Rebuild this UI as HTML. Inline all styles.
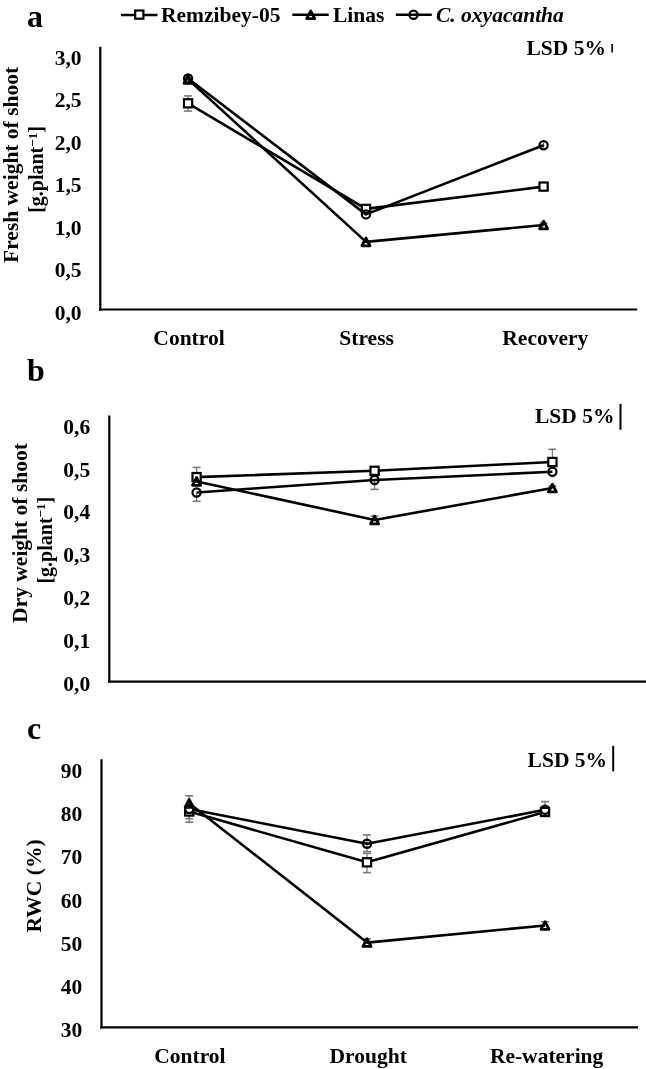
<!DOCTYPE html>
<html><head><meta charset="utf-8"><style>
html,body{margin:0;padding:0;background:#fff;}
svg{display:block;filter:grayscale(1) blur(0.3px);}
svg text{font-family:"Liberation Serif", serif;font-weight:bold;fill:#000;}
</style></head><body>
<svg width="646" height="1069" viewBox="0 0 646 1069">
<line x1="121" y1="15" x2="157.5" y2="15" stroke="#000" stroke-width="2.6" stroke-linecap="butt"/>
<rect x="135.2" y="10.5" width="8.2" height="8.2" fill="#fff" stroke="#000" stroke-width="2.2"/>
<text x="161" y="22.2" text-anchor="start" font-size="21.5"  style="">Remzibey-05</text>
<line x1="292.3" y1="14.8" x2="328.7" y2="14.8" stroke="#000" stroke-width="2.6" stroke-linecap="butt"/>
<polygon points="310.7,10.95 314.75,18.65 306.65,18.65" fill="none" stroke="#000" stroke-width="2.75" stroke-linejoin="round"/>
<text x="333" y="22.2" text-anchor="start" font-size="21.5"  style="">Linas</text>
<line x1="395.8" y1="14.7" x2="431.8" y2="14.7" stroke="#000" stroke-width="2.6" stroke-linecap="butt"/>
<circle cx="413.5" cy="14.7" r="4.1" fill="none" stroke="#000" stroke-width="2.2"/>
<text x="436" y="22.2" text-anchor="start" font-size="21.5"  style="font-style:italic">C. oxyacantha</text>
<text x="27" y="26.6" text-anchor="start" font-size="32"  style="">a</text>
<line x1="100.3" y1="46.8" x2="100.3" y2="310.7" stroke="#000" stroke-width="2.2" stroke-linecap="butt"/>
<line x1="99.1" y1="309.5" x2="637.2" y2="309.5" stroke="#000" stroke-width="2.2" stroke-linecap="butt"/>
<text x="81.5" y="64.8" text-anchor="end" font-size="21.5"  style="">3,0</text>
<text x="81.5" y="107.27" text-anchor="end" font-size="21.5"  style="">2,5</text>
<text x="81.5" y="149.74" text-anchor="end" font-size="21.5"  style="">2,0</text>
<text x="81.5" y="192.21" text-anchor="end" font-size="21.5"  style="">1,5</text>
<text x="81.5" y="234.68" text-anchor="end" font-size="21.5"  style="">1,0</text>
<text x="81.5" y="277.15" text-anchor="end" font-size="21.5"  style="">0,5</text>
<text x="81.5" y="319.62" text-anchor="end" font-size="21.5"  style="">0,0</text>
<text x="189" y="344.5" text-anchor="middle" font-size="21.5"  style="">Control</text>
<text x="366.6" y="344.5" text-anchor="middle" font-size="21.5"  style="">Stress</text>
<text x="545.3" y="344.5" text-anchor="middle" font-size="21.5"  style="">Recovery</text>
<text x="526.5" y="54.8" text-anchor="start" font-size="21.5"  style="">LSD 5%</text>
<line x1="612.1" y1="43.9" x2="612.1" y2="52.4" stroke="#000" stroke-width="1.6" stroke-linecap="butt"/>
<text transform="translate(18.3,164.9) rotate(-90)" text-anchor="middle" font-size="21.5">Fresh weight of shoot</text>
<text transform="translate(43,169.5) rotate(-90)" text-anchor="middle" font-size="20">[g.plant<tspan font-size="13" dy="-6.3">&#8722;1</tspan><tspan dy="6.3">]</tspan></text>
<line x1="188.1" y1="103.3" x2="188.1" y2="95.9" stroke="#7a7a7a" stroke-width="1.3" stroke-linecap="butt"/>
<line x1="184.1" y1="95.9" x2="192.1" y2="95.9" stroke="#7a7a7a" stroke-width="1.6" stroke-linecap="butt"/>
<line x1="188.1" y1="103.3" x2="188.1" y2="111.1" stroke="#7a7a7a" stroke-width="1.3" stroke-linecap="butt"/>
<line x1="184.1" y1="111.1" x2="192.1" y2="111.1" stroke="#7a7a7a" stroke-width="1.6" stroke-linecap="butt"/>
<line x1="543.6" y1="225.0" x2="543.6" y2="223.2" stroke="#7a7a7a" stroke-width="1.3" stroke-linecap="butt"/>
<line x1="539.6" y1="223.2" x2="547.6" y2="223.2" stroke="#7a7a7a" stroke-width="1.6" stroke-linecap="butt"/>
<line x1="543.6" y1="142.5" x2="543.6" y2="147.8" stroke="#7a7a7a" stroke-width="1.3" stroke-linecap="butt"/>
<polyline points="188.1,103.3 366.0,208.9 543.6,186.6" fill="none" stroke="#000" stroke-width="2.6" stroke-linejoin="round"/>
<polyline points="188.1,79.4 366.0,241.9 543.6,225.0" fill="none" stroke="#000" stroke-width="2.6" stroke-linejoin="round"/>
<polyline points="188.1,78.5 366.0,214.4 543.6,145.2" fill="none" stroke="#000" stroke-width="2.6" stroke-linejoin="round"/>
<rect x="184.0" y="99.2" width="8.2" height="8.2" fill="#fff" stroke="#000" stroke-width="2.2"/>
<rect x="361.9" y="204.8" width="8.2" height="8.2" fill="#fff" stroke="#000" stroke-width="2.2"/>
<rect x="539.5" y="182.5" width="8.2" height="8.2" fill="#fff" stroke="#000" stroke-width="2.2"/>
<polygon points="188.1,75.55 192.15,83.25 184.05,83.25" fill="none" stroke="#000" stroke-width="2.75" stroke-linejoin="round"/>
<polygon points="366.0,238.05 370.05,245.75 361.95,245.75" fill="none" stroke="#000" stroke-width="2.75" stroke-linejoin="round"/>
<polygon points="543.6,221.15 547.65,228.85 539.55,228.85" fill="none" stroke="#000" stroke-width="2.75" stroke-linejoin="round"/>
<circle cx="188.1" cy="78.5" r="4.1" fill="none" stroke="#000" stroke-width="2.2"/>
<circle cx="366.0" cy="214.4" r="4.1" fill="none" stroke="#000" stroke-width="2.2"/>
<circle cx="543.6" cy="145.2" r="4.1" fill="none" stroke="#000" stroke-width="2.2"/>
<text x="27" y="380.7" text-anchor="start" font-size="32"  style="">b</text>
<line x1="109.3" y1="415.5" x2="109.3" y2="682.7" stroke="#000" stroke-width="2.2" stroke-linecap="butt"/>
<line x1="108.1" y1="681.6" x2="646" y2="681.6" stroke="#000" stroke-width="2.2" stroke-linecap="butt"/>
<text x="90.2" y="433.6" text-anchor="end" font-size="21.5"  style="">0,6</text>
<text x="90.2" y="476.53" text-anchor="end" font-size="21.5"  style="">0,5</text>
<text x="90.2" y="519.46" text-anchor="end" font-size="21.5"  style="">0,4</text>
<text x="90.2" y="562.39" text-anchor="end" font-size="21.5"  style="">0,3</text>
<text x="90.2" y="605.32" text-anchor="end" font-size="21.5"  style="">0,2</text>
<text x="90.2" y="648.25" text-anchor="end" font-size="21.5"  style="">0,1</text>
<text x="90.2" y="691.18" text-anchor="end" font-size="21.5"  style="">0,0</text>
<text x="535" y="423.2" text-anchor="start" font-size="21.5"  style="">LSD 5%</text>
<line x1="620.5" y1="403.9" x2="620.5" y2="429.7" stroke="#000" stroke-width="2" stroke-linecap="butt"/>
<text transform="translate(27,533) rotate(-90)" text-anchor="middle" font-size="21.5">Dry weight of shoot</text>
<text transform="translate(51.5,540.2) rotate(-90)" text-anchor="middle" font-size="20">[g.plant<tspan font-size="13" dy="-6.3">&#8722;1</tspan><tspan dy="6.3">]</tspan></text>
<line x1="196.6" y1="477.1" x2="196.6" y2="467.4" stroke="#7a7a7a" stroke-width="1.3" stroke-linecap="butt"/>
<line x1="192.6" y1="467.4" x2="200.6" y2="467.4" stroke="#7a7a7a" stroke-width="1.6" stroke-linecap="butt"/>
<line x1="196.6" y1="492.5" x2="196.6" y2="501.3" stroke="#7a7a7a" stroke-width="1.3" stroke-linecap="butt"/>
<line x1="192.6" y1="501.3" x2="200.6" y2="501.3" stroke="#7a7a7a" stroke-width="1.6" stroke-linecap="butt"/>
<line x1="374.6" y1="480.0" x2="374.6" y2="489.4" stroke="#7a7a7a" stroke-width="1.3" stroke-linecap="butt"/>
<line x1="370.6" y1="489.4" x2="378.6" y2="489.4" stroke="#7a7a7a" stroke-width="1.6" stroke-linecap="butt"/>
<line x1="552.4" y1="462.0" x2="552.4" y2="449.3" stroke="#7a7a7a" stroke-width="1.3" stroke-linecap="butt"/>
<line x1="548.4" y1="449.3" x2="556.4" y2="449.3" stroke="#7a7a7a" stroke-width="1.6" stroke-linecap="butt"/>
<line x1="374.6" y1="520.0" x2="374.6" y2="516.0" stroke="#7a7a7a" stroke-width="1.3" stroke-linecap="butt"/>
<line x1="370.6" y1="516.0" x2="378.6" y2="516.0" stroke="#7a7a7a" stroke-width="1.6" stroke-linecap="butt"/>
<line x1="552.4" y1="488.0" x2="552.4" y2="486.0" stroke="#7a7a7a" stroke-width="1.3" stroke-linecap="butt"/>
<line x1="548.4" y1="486.0" x2="556.4" y2="486.0" stroke="#7a7a7a" stroke-width="1.6" stroke-linecap="butt"/>
<polyline points="196.6,477.1 374.6,470.8 552.4,462.0" fill="none" stroke="#000" stroke-width="2.6" stroke-linejoin="round"/>
<polyline points="196.6,481.4 374.6,520.0 552.4,488.0" fill="none" stroke="#000" stroke-width="2.6" stroke-linejoin="round"/>
<polyline points="196.6,492.5 374.6,480.0 552.4,471.8" fill="none" stroke="#000" stroke-width="2.6" stroke-linejoin="round"/>
<rect x="192.5" y="473.0" width="8.2" height="8.2" fill="#fff" stroke="#000" stroke-width="2.2"/>
<rect x="370.5" y="466.7" width="8.2" height="8.2" fill="#fff" stroke="#000" stroke-width="2.2"/>
<rect x="548.3" y="457.9" width="8.2" height="8.2" fill="#fff" stroke="#000" stroke-width="2.2"/>
<polygon points="196.6,477.55 200.65,485.25 192.55,485.25" fill="none" stroke="#000" stroke-width="2.75" stroke-linejoin="round"/>
<polygon points="374.6,516.15 378.65,523.85 370.55,523.85" fill="none" stroke="#000" stroke-width="2.75" stroke-linejoin="round"/>
<polygon points="552.4,484.15 556.45,491.85 548.35,491.85" fill="none" stroke="#000" stroke-width="2.75" stroke-linejoin="round"/>
<circle cx="196.6" cy="492.5" r="4.1" fill="none" stroke="#000" stroke-width="2.2"/>
<circle cx="374.6" cy="480.0" r="4.1" fill="none" stroke="#000" stroke-width="2.2"/>
<circle cx="552.4" cy="471.8" r="4.1" fill="none" stroke="#000" stroke-width="2.2"/>
<text x="27" y="739.1" text-anchor="start" font-size="32"  style="">c</text>
<line x1="101.5" y1="759.3" x2="101.5" y2="1028.6" stroke="#000" stroke-width="2.2" stroke-linecap="butt"/>
<line x1="100.3" y1="1027.3" x2="638.1" y2="1027.3" stroke="#000" stroke-width="2.2" stroke-linecap="butt"/>
<text x="82.2" y="777.8" text-anchor="end" font-size="21.5"  style="">90</text>
<text x="82.2" y="821.05" text-anchor="end" font-size="21.5"  style="">80</text>
<text x="82.2" y="864.3" text-anchor="end" font-size="21.5"  style="">70</text>
<text x="82.2" y="907.55" text-anchor="end" font-size="21.5"  style="">60</text>
<text x="82.2" y="950.8" text-anchor="end" font-size="21.5"  style="">50</text>
<text x="82.2" y="994.05" text-anchor="end" font-size="21.5"  style="">40</text>
<text x="82.2" y="1037.3" text-anchor="end" font-size="21.5"  style="">30</text>
<text x="189.9" y="1062.6" text-anchor="middle" font-size="21.5"  style="">Control</text>
<text x="368.2" y="1062.6" text-anchor="middle" font-size="21.5"  style="">Drought</text>
<text x="546.6" y="1062.6" text-anchor="middle" font-size="21.5"  style="">Re-watering</text>
<text x="527.6" y="766.7" text-anchor="start" font-size="21.5"  style="">LSD 5%</text>
<line x1="613.2" y1="745.8" x2="613.2" y2="771.3" stroke="#000" stroke-width="2" stroke-linecap="butt"/>
<text transform="translate(40.8,885.9) rotate(-90)" text-anchor="middle" font-size="21.5">RWC (%)</text>
<line x1="189.2" y1="802.5" x2="189.2" y2="795.8" stroke="#7a7a7a" stroke-width="1.3" stroke-linecap="butt"/>
<line x1="185.2" y1="795.8" x2="193.2" y2="795.8" stroke="#7a7a7a" stroke-width="1.6" stroke-linecap="butt"/>
<line x1="189.2" y1="811.5" x2="189.2" y2="822.2" stroke="#7a7a7a" stroke-width="1.3" stroke-linecap="butt"/>
<line x1="185.2" y1="822.2" x2="193.2" y2="822.2" stroke="#7a7a7a" stroke-width="1.6" stroke-linecap="butt"/>
<line x1="189.2" y1="809" x2="189.2" y2="818.7" stroke="#7a7a7a" stroke-width="1.3" stroke-linecap="butt"/>
<line x1="185.2" y1="818.7" x2="193.2" y2="818.7" stroke="#7a7a7a" stroke-width="1.6" stroke-linecap="butt"/>
<line x1="367.0" y1="843.8" x2="367.0" y2="834.9" stroke="#7a7a7a" stroke-width="1.3" stroke-linecap="butt"/>
<line x1="363.0" y1="834.9" x2="371.0" y2="834.9" stroke="#7a7a7a" stroke-width="1.6" stroke-linecap="butt"/>
<line x1="367.0" y1="843.8" x2="367.0" y2="851.6" stroke="#7a7a7a" stroke-width="1.3" stroke-linecap="butt"/>
<line x1="363.0" y1="851.6" x2="371.0" y2="851.6" stroke="#7a7a7a" stroke-width="1.6" stroke-linecap="butt"/>
<line x1="367.0" y1="862.3" x2="367.0" y2="853.4" stroke="#7a7a7a" stroke-width="1.3" stroke-linecap="butt"/>
<line x1="363.0" y1="853.4" x2="371.0" y2="853.4" stroke="#7a7a7a" stroke-width="1.6" stroke-linecap="butt"/>
<line x1="367.0" y1="862.3" x2="367.0" y2="872.6" stroke="#7a7a7a" stroke-width="1.3" stroke-linecap="butt"/>
<line x1="363.0" y1="872.6" x2="371.0" y2="872.6" stroke="#7a7a7a" stroke-width="1.6" stroke-linecap="butt"/>
<line x1="545.0" y1="809.8" x2="545.0" y2="801.6" stroke="#7a7a7a" stroke-width="1.3" stroke-linecap="butt"/>
<line x1="541.0" y1="801.6" x2="549.0" y2="801.6" stroke="#7a7a7a" stroke-width="1.6" stroke-linecap="butt"/>
<line x1="545.0" y1="925.5" x2="545.0" y2="921.7" stroke="#7a7a7a" stroke-width="1.3" stroke-linecap="butt"/>
<line x1="541.0" y1="921.7" x2="549.0" y2="921.7" stroke="#7a7a7a" stroke-width="1.6" stroke-linecap="butt"/>
<line x1="367.0" y1="942.6" x2="367.0" y2="938.9" stroke="#7a7a7a" stroke-width="1.3" stroke-linecap="butt"/>
<line x1="363.0" y1="938.9" x2="371.0" y2="938.9" stroke="#7a7a7a" stroke-width="1.6" stroke-linecap="butt"/>
<polyline points="189.2,811.5 367.0,862.3 545.0,812.0" fill="none" stroke="#000" stroke-width="2.6" stroke-linejoin="round"/>
<polyline points="189.2,803.2 367.0,942.6 545.0,925.5" fill="none" stroke="#000" stroke-width="2.6" stroke-linejoin="round"/>
<polyline points="189.2,809.0 367.0,843.8 545.0,809.8" fill="none" stroke="#000" stroke-width="2.6" stroke-linejoin="round"/>
<rect x="185.1" y="807.4" width="8.2" height="8.2" fill="#fff" stroke="#000" stroke-width="2.2"/>
<rect x="362.9" y="858.2" width="8.2" height="8.2" fill="#fff" stroke="#000" stroke-width="2.2"/>
<rect x="540.9" y="807.9" width="8.2" height="8.2" fill="#fff" stroke="#000" stroke-width="2.2"/>
<polygon points="189.2,799.35 193.25,807.05 185.15,807.05" fill="none" stroke="#000" stroke-width="2.75" stroke-linejoin="round"/>
<polygon points="367.0,938.75 371.05,946.45 362.95,946.45" fill="none" stroke="#000" stroke-width="2.75" stroke-linejoin="round"/>
<polygon points="545.0,921.65 549.05,929.35 540.95,929.35" fill="none" stroke="#000" stroke-width="2.75" stroke-linejoin="round"/>
<circle cx="189.2" cy="809.0" r="4.1" fill="none" stroke="#000" stroke-width="2.2"/>
<circle cx="367.0" cy="843.8" r="4.1" fill="none" stroke="#000" stroke-width="2.2"/>
<circle cx="545.0" cy="809.8" r="4.1" fill="none" stroke="#000" stroke-width="2.2"/>
</svg>
</body></html>
